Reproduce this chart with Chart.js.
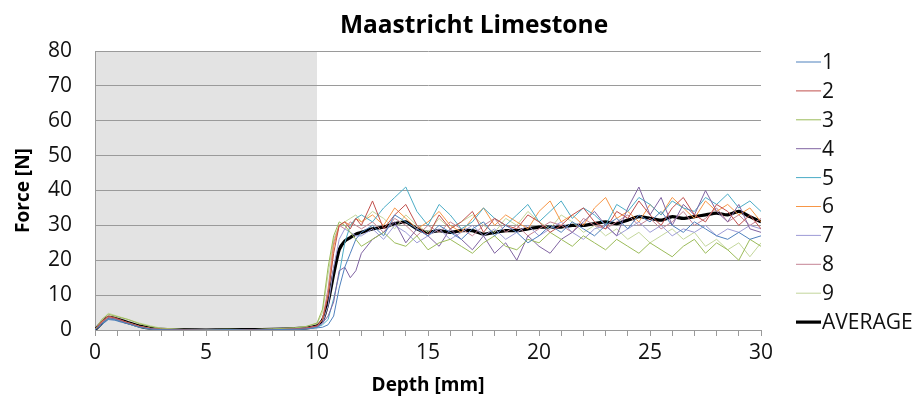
<!DOCTYPE html>
<html>
<head>
<meta charset="utf-8">
<script src="https://cdn.jsdelivr.net/npm/chart.js@4/dist/chart.umd.min.js"></script>
<style>
  html, body { margin: 0; padding: 0; background: #fff; }
  #wrap { width: 921px; height: 409px; }
</style>
</head>
<body>
<div id="wrap"><canvas id="forceChart" width="921" height="409"></canvas></div>
<script>
// depth positions (mm) shared by every run
const depth = [0, 0.3, 0.6, 0.9, 1.2, 1.5, 2, 2.5, 3, 4, 5, 6, 7, 8, 9, 9.5,
  10, 10.25, 10.5, 10.75, 11, 11.25, 11.5, 11.75,
  12, 12.5, 13, 13.5, 14, 14.5, 15, 15.5, 16, 16.5, 17, 17.5, 18, 18.5, 19, 19.5,
  20, 20.5, 21, 21.5, 22, 22.5, 23, 23.5, 24, 24.5, 25, 25.5, 26, 26.5, 27, 27.5,
  28, 28.5, 29, 29.5, 30];

const run1 = [0, 1.5, 3, 2.8, 2.2, 1.8, 0.8, 0.3, 0.1, 0, 0, 0.1, 0, 0.1, 0.2, 0.3,
  0.6, 0.8, 1.5, 4, 12, 18, 22, 26,
  28, 30, 27, 33, 31, 29, 27, 30, 28, 26, 29, 31, 27, 30, 28, 25, 27, 30, 28, 31,
  29, 27, 30, 32, 29, 33, 31, 34, 30, 28, 31, 29, 27, 26, 28, 26, 27];
const run2 = [0, 2.5, 4, 3.5, 2.8, 2, 1, 0.4, 0.2, 0.1, 0, 0, 0.1, 0.1, 0.3, 0.5,
  1.2, 3, 10, 22, 30, 31, 29, 32,
  30, 37, 29, 33, 36, 30, 27, 33, 29, 31, 34, 28, 32, 30, 29, 33, 31, 28, 30, 33,
  35, 31, 29, 34, 32, 37, 33, 30, 35, 38, 33, 31, 36, 34, 30, 33, 29];
const run3 = [0, 3, 4.5, 4, 3.5, 3, 1.8, 1, 0.4, 0.1, 0.1, 0.2, 0.1, 0.3, 0.6, 1,
  2, 6, 18, 27, 31, 30, 28, 26,
  24, 26, 28, 25, 24, 27, 23, 25, 26, 24, 22, 25, 27, 24, 23, 26, 25, 28, 26, 24,
  27, 25, 23, 26, 24, 22, 25, 23, 21, 24, 26, 22, 25, 23, 20, 26, 24];
const run4 = [0, 2, 3.5, 3.2, 2.6, 2, 1, 0.4, 0.1, 0, 0, 0.1, 0.1, 0.2, 0.4, 0.6,
  1, 2, 4, 8, 17, 18, 15, 17,
  22, 26, 28, 31, 25, 29, 27, 24, 29, 26, 23, 27, 22, 25, 20, 27, 24, 22, 26, 28,
  31, 34, 30, 27, 35, 41, 33, 38, 30, 36, 33, 40, 34, 31, 36, 29, 28];
const run5 = [0, 1.8, 3.2, 3, 2.5, 1.8, 0.8, 0.3, 0.1, 0, 0, 0, 0.1, 0.1, 0.2, 0.4,
  0.8, 1.5, 3, 9, 16, 25, 30, 32,
  33, 31, 35, 38, 41, 34, 30, 36, 33, 29, 31, 35, 32, 30, 33, 36, 31, 34, 37, 32,
  35, 33, 30, 36, 34, 38, 36, 33, 37, 35, 34, 38, 36, 39, 35, 37, 34];
const run6 = [0, 2.2, 3.8, 3.3, 2.7, 2.1, 1.1, 0.5, 0.2, 0.1, 0, 0.1, 0, 0.1, 0.3, 0.5,
  1, 3, 10, 24, 30, 31, 30, 32,
  31, 33, 30, 35, 32, 29, 31, 34, 30, 28, 32, 35, 30, 33, 31, 29, 34, 37, 31, 33,
  30, 35, 38, 32, 34, 31, 36, 33, 38, 35, 32, 37, 34, 36, 33, 35, 31];
const run7 = [0, 2, 3.4, 3.1, 2.5, 1.9, 0.9, 0.4, 0.1, 0, 0, 0, 0.1, 0.1, 0.2, 0.4,
  0.8, 2, 7, 18, 26, 29, 28, 27,
  27, 29, 26, 30, 28, 25, 27, 29, 26, 28, 30, 27, 29, 26, 28, 30, 27, 29, 31, 28,
  26, 29, 30, 27, 29, 31, 28, 30, 27, 29, 28, 30, 27, 29, 28, 30, 29];
const run8 = [0, 2.3, 3.6, 3.2, 2.6, 2, 1, 0.4, 0.1, 0, 0, 0.1, 0.1, 0.2, 0.3, 0.6,
  1.1, 3, 12, 25, 30, 29, 31, 30,
  29, 31, 28, 32, 30, 27, 30, 28, 31, 29, 27, 30, 32, 28, 30, 27, 29, 31, 30, 28,
  32, 30, 29, 31, 33, 30, 32, 29, 31, 34, 30, 32, 35, 31, 33, 30, 32];
const run9 = [0, 2.8, 4.8, 4.2, 3.6, 3, 2, 1.2, 0.5, 0.2, 0.1, 0.2, 0.1, 0.3, 0.6, 1,
  1.8, 5, 16, 26, 30, 31, 32, 33,
  31, 34, 32, 29, 33, 30, 28, 32, 29, 31, 33, 30, 28, 32, 30, 34, 31, 29, 33, 31,
  28, 30, 27, 29, 26, 28, 25, 27, 29, 26, 28, 24, 26, 23, 25, 21, 25];
const average = [0, 2, 3.6, 3.3, 2.7, 2.1, 1.1, 0.5, 0.2, 0.1, 0, 0.1, 0.1, 0.2, 0.4, 0.6,
  1.2, 2.8, 8, 16, 23, 25.5, 26.5, 27.5,
  28, 29, 29.5, 30.5, 31, 29, 28, 28.5, 28, 28.5, 28.5, 27.5, 28, 28.5, 28.5, 29,
  29.5, 29.5, 29.5, 30, 30, 30.5, 31, 30.5, 31.5, 32.5, 32, 31.5, 32.5, 32, 32.5, 33,
  33.5, 33, 34, 32.5, 31];

const runs = [run1, run2, run3, run4, run5, run6, run7, run8, run9];
const runLabels = ["1", "2", "3", "4", "5", "6", "7", "8", "9"];
const runColors = ["#4f81bd", "#c0504d", "#9bbb59", "#8064a2", "#4bacc6",
  "#f79646", "#9d9bd6", "#c58494", "#c3d69b"];

const yTicks = [0, 10, 20, 30, 40, 50, 60, 70, 80];
const xTicks = [0, 5, 10, 15, 20, 25, 30];
const shadeFrom = 0;
const shadeTo = 10;

const FONT = "'Open Sans', 'Liberation Sans', sans-serif";

function toPoints(values) {
  return values.map((v, i) => ({ x: depth[i], y: v }));
}

const datasets = runs.map((r, i) => ({
  label: runLabels[i],
  data: toPoints(r),
  borderColor: runColors[i],
  borderWidth: 1,
  pointRadius: 0,
  tension: 0,
}));
datasets.push({
  label: "AVERAGE",
  data: toPoints(average),
  borderColor: "#000000",
  borderWidth: 3.2,
  pointRadius: 0,
  tension: 0.2,
});

// grey band for the first 10 mm
const shadePlugin = {
  id: "shade",
  beforeDraw(chart) {
    const { ctx, chartArea, scales } = chart;
    const x0 = scales.x.getPixelForValue(shadeFrom);
    const x1 = scales.x.getPixelForValue(shadeTo);
    ctx.save();
    ctx.fillStyle = "#e3e3e3";
    ctx.fillRect(x0, chartArea.top, x1 - x0, chartArea.bottom - chartArea.top);
    ctx.restore();
  },
};

// title, axis titles and the legend on the right
const textPlugin = {
  id: "texts",
  afterDraw(chart) {
    const { ctx, chartArea } = chart;
    ctx.save();
    ctx.fillStyle = "#000";
    ctx.textAlign = "center";
    ctx.textBaseline = "middle";
    ctx.font = "bold 24.5px " + FONT;
    ctx.fillText("Maastricht Limestone", 474, 26);
    ctx.font = "bold 19px " + FONT;
    ctx.fillText("Depth [mm]", (chartArea.left + chartArea.right) / 2, 386);
    ctx.translate(24, (chartArea.top + chartArea.bottom) / 2);
    ctx.rotate(-Math.PI / 2);
    ctx.fillText("Force [N]", 0, 0);
    ctx.restore();

    ctx.save();
    ctx.font = "21px " + FONT;
    ctx.textAlign = "left";
    ctx.textBaseline = "middle";
    chart.data.datasets.forEach((ds, i) => {
      const y = 62 + i * 28.9;
      ctx.strokeStyle = ds.borderColor;
      ctx.lineWidth = ds.borderWidth;
      ctx.beginPath();
      ctx.moveTo(796, y);
      ctx.lineTo(821, y);
      ctx.stroke();
      ctx.fillStyle = "#111";
      ctx.fillText(ds.label, 822, y + 1);
    });
    ctx.restore();
  },
};

new Chart(document.getElementById("forceChart"), {
  type: "line",
  data: { datasets: datasets },
  plugins: [shadePlugin, textPlugin],
  options: {
    responsive: false,
    animation: false,
    layout: { padding: { top: 51, right: 160, left: 0, bottom: 0 } },
    plugins: {
      legend: { display: false },
      title: { display: false },
      tooltip: { enabled: false },
    },
    scales: {
      x: {
        type: "linear",
        min: 0,
        max: 30,
        afterFit(scale) { scale.height = 79; },
        afterBuildTicks(scale) {
          const t = [];
          for (let v = 0; v <= 30; v++) t.push({ value: v });
          scale.ticks = t;
        },
        ticks: {
          autoSkip: false,
          maxRotation: 0,
          padding: 4,
          color: "#111",
          font: { family: FONT, size: 21 },
          callback: (v) => (xTicks.includes(v) ? String(v) : ""),
        },
        grid: {
          drawOnChartArea: false,
          drawTicks: true,
          tickLength: 6,
          color: "#9a9a9a",
        },
        border: { color: "#9a9a9a" },
      },
      y: {
        min: 0,
        max: 80,
        afterFit(scale) { scale.width = 95; },
        afterBuildTicks(scale) {
          scale.ticks = yTicks.map((v) => ({ value: v }));
        },
        ticks: {
          padding: 23,
          color: "#111",
          font: { family: FONT, size: 21 },
        },
        grid: {
          color: "#9a9a9a",
          drawTicks: false,
        },
        border: { color: "#9a9a9a" },
      },
    },
  },
});
</script>
</body>
</html>
